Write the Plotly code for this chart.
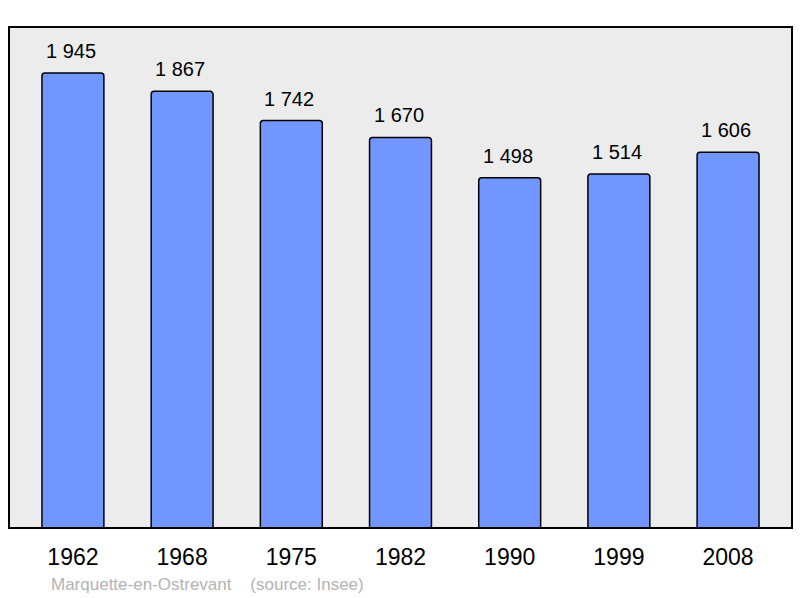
import plotly.graph_objects as go

years = ["1962", "1968", "1975", "1982", "1990", "1999", "2008"]
population = [1945, 1867, 1742, 1670, 1498, 1514, 1606]
value_labels = ["1 945", "1 867", "1 742", "1 670", "1 498", "1 514", "1 606"]

fig = go.Figure(go.Bar(
    x=years, y=population,
    width=0.567,
    marker=dict(color="#7196ff", line=dict(color="black", width=1.5), cornerradius=3),
    hoverinfo="x+y",
))

# value labels above each bar (category index as x)
for i, (val, lab) in enumerate(zip(population, value_labels)):
    fig.add_annotation(x=i, y=val, text=lab, showarrow=False, yanchor="bottom",
                       yshift=9, xshift=-2, font=dict(size=20, color="black"))

fig.add_annotation(xref="paper", yref="paper", x=0.0505, y=0, yshift=-56,
                   xanchor="left", yanchor="middle", showarrow=False,
                   text="Marquette-en-Ostrevant&nbsp;&nbsp;&nbsp;&nbsp;(source: Insee)",
                   font=dict(size=17, color="#b3b3b3"))

fig.add_shape(type="rect", xref="paper", yref="paper", x0=0, y0=0, x1=1, y1=1,
              line=dict(color="black", width=2), layer="above")

fig.update_layout(
    width=800, height=598,
    margin=dict(l=9, r=8, t=27, b=70),
    plot_bgcolor="#ececec", paper_bgcolor="white",
    font=dict(family="Liberation Sans, Arial, sans-serif", color="black"),
    showlegend=False,
    xaxis=dict(type="category", range=[-0.5855, 6.5855], showgrid=False, zeroline=False,
               tickfont=dict(size=23), ticks="outside", ticklen=8, tickcolor="rgba(0,0,0,0)"),
    yaxis=dict(range=[0, 2142], showgrid=False, zeroline=False, showticklabels=False),
)

fig.write_html("out.html", config={"displayModeBar": False},
               post_script="document.body.style.margin='0px';")
